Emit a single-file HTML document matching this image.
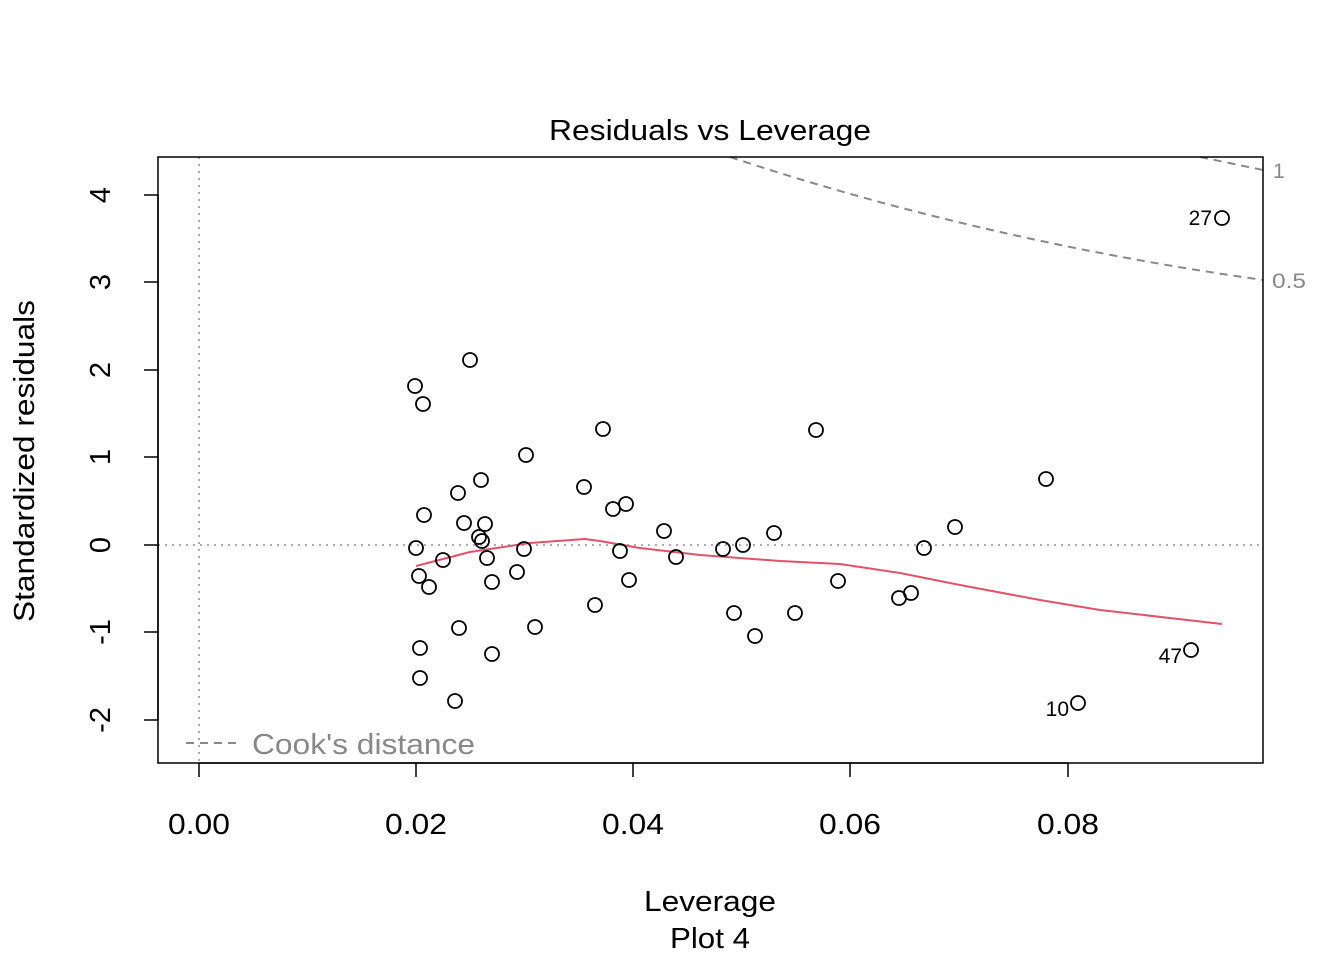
<!DOCTYPE html>
<html><head><meta charset="utf-8"><style>body{margin:0;background:#fff}svg{display:block}</style></head>
<body>
<svg width="1344" height="960" xmlns="http://www.w3.org/2000/svg" font-family="Liberation Sans, Arial, sans-serif">
<rect width="1344" height="960" fill="#fff"/>
<text x="710" y="140" font-size="29" text-anchor="middle" textLength="322" lengthAdjust="spacingAndGlyphs">Residuals vs Leverage</text>
<line x1="199" y1="157" x2="199" y2="763" stroke="#aaa" stroke-width="2" stroke-dasharray="2,5"/>
<line x1="158" y1="545" x2="1263" y2="545" stroke="#aaa" stroke-width="2" stroke-dasharray="2,5"/>
<path d="M730,157 Q980,240 1263,280" fill="none" stroke="#888" stroke-width="2" stroke-dasharray="8,6"/>
<path d="M1200,157 L1263,170" fill="none" stroke="#888" stroke-width="2" stroke-dasharray="8,6"/>
<text x="1273" y="178" font-size="21" fill="#888">1</text>
<text x="1272" y="288" font-size="21" fill="#888" textLength="34" lengthAdjust="spacingAndGlyphs">0.5</text>
<polyline points="416,566 470,552 530,543 585,539 600,541 640,548 700,555 780,561 840,564 900,573 960,585 1040,600 1100,610 1222,624" fill="none" stroke="#DF536B" stroke-width="2"/>
<g fill="none" stroke="#000" stroke-width="1.8">
<circle cx="415" cy="386" r="7"/><circle cx="423" cy="404" r="7"/><circle cx="470" cy="360" r="7"/><circle cx="603" cy="429" r="7"/><circle cx="816" cy="430" r="7"/><circle cx="526" cy="455" r="7"/><circle cx="584" cy="487" r="7"/><circle cx="458" cy="493" r="7"/><circle cx="481" cy="480" r="7"/><circle cx="1046" cy="479" r="7"/><circle cx="626" cy="504" r="7"/><circle cx="613" cy="509" r="7"/><circle cx="424" cy="515" r="7"/><circle cx="464" cy="523" r="7"/><circle cx="485" cy="524" r="7"/><circle cx="664" cy="531" r="7"/><circle cx="774" cy="533" r="7"/><circle cx="955" cy="527" r="7"/><circle cx="479" cy="537" r="7"/><circle cx="482" cy="541" r="7"/><circle cx="416" cy="548" r="7"/><circle cx="524" cy="549" r="7"/><circle cx="743" cy="545" r="7"/><circle cx="723" cy="549" r="7"/><circle cx="924" cy="548" r="7"/><circle cx="620" cy="551" r="7"/><circle cx="443" cy="560" r="7"/><circle cx="487" cy="558" r="7"/><circle cx="676" cy="557" r="7"/><circle cx="419" cy="576" r="7"/><circle cx="429" cy="587" r="7"/><circle cx="492" cy="582" r="7"/><circle cx="517" cy="572" r="7"/><circle cx="629" cy="580" r="7"/><circle cx="838" cy="581" r="7"/><circle cx="595" cy="605" r="7"/><circle cx="734" cy="613" r="7"/><circle cx="795" cy="613" r="7"/><circle cx="899" cy="598" r="7"/><circle cx="911" cy="593" r="7"/><circle cx="459" cy="628" r="7"/><circle cx="535" cy="627" r="7"/><circle cx="755" cy="636" r="7"/><circle cx="420" cy="648" r="7"/><circle cx="492" cy="654" r="7"/><circle cx="420" cy="678" r="7"/><circle cx="455" cy="701" r="7"/><circle cx="1078" cy="703" r="7"/><circle cx="1191" cy="650" r="7"/><circle cx="1222" cy="218" r="7"/>
</g>
<text x="1212" y="225" font-size="21" text-anchor="end">27</text>
<text x="1182" y="663" font-size="21" text-anchor="end">47</text>
<text x="1069" y="716" font-size="21" text-anchor="end">10</text>
<line x1="186" y1="743" x2="240" y2="743" stroke="#888" stroke-width="2" stroke-dasharray="8,6"/>
<text x="252" y="754" font-size="29" fill="#888" textLength="223" lengthAdjust="spacingAndGlyphs">Cook's distance</text>
<rect x="158" y="157" width="1105" height="606" fill="none" stroke="#000" stroke-width="1.5"/>
<g stroke="#000" stroke-width="1.5">
<line x1="199" y1="763" x2="1068" y2="763"/>
<line x1="199" y1="763" x2="199" y2="777"/><line x1="416" y1="763" x2="416" y2="777"/><line x1="633" y1="763" x2="633" y2="777"/><line x1="850" y1="763" x2="850" y2="777"/><line x1="1068" y1="763" x2="1068" y2="777"/>
<line x1="158" y1="195" x2="158" y2="720"/>
<line x1="144" y1="195" x2="158" y2="195"/><line x1="144" y1="282" x2="158" y2="282"/><line x1="144" y1="370" x2="158" y2="370"/><line x1="144" y1="457" x2="158" y2="457"/><line x1="144" y1="545" x2="158" y2="545"/><line x1="144" y1="632" x2="158" y2="632"/><line x1="144" y1="720" x2="158" y2="720"/>
</g>
<g font-size="29" text-anchor="middle" lengthAdjust="spacingAndGlyphs">
<text x="199" y="834" textLength="62" lengthAdjust="spacingAndGlyphs">0.00</text><text x="416" y="834" textLength="62" lengthAdjust="spacingAndGlyphs">0.02</text><text x="633" y="834" textLength="62" lengthAdjust="spacingAndGlyphs">0.04</text><text x="850" y="834" textLength="62" lengthAdjust="spacingAndGlyphs">0.06</text><text x="1068" y="834" textLength="62" lengthAdjust="spacingAndGlyphs">0.08</text>
<text transform="translate(110,195) rotate(-90)">4</text>
<text transform="translate(110,282) rotate(-90)">3</text>
<text transform="translate(110,370) rotate(-90)">2</text>
<text transform="translate(110,457) rotate(-90)">1</text>
<text transform="translate(110,545) rotate(-90)">0</text>
<text transform="translate(110,632) rotate(-90)">-1</text>
<text transform="translate(110,720) rotate(-90)">-2</text>
<text x="710" y="911" textLength="132" lengthAdjust="spacingAndGlyphs">Leverage</text>
<text x="710" y="948" textLength="80" lengthAdjust="spacingAndGlyphs">Plot 4</text>
<text transform="translate(34,461) rotate(-90)" textLength="322" lengthAdjust="spacingAndGlyphs">Standardized residuals</text>
</g>
</svg>
</body></html>
